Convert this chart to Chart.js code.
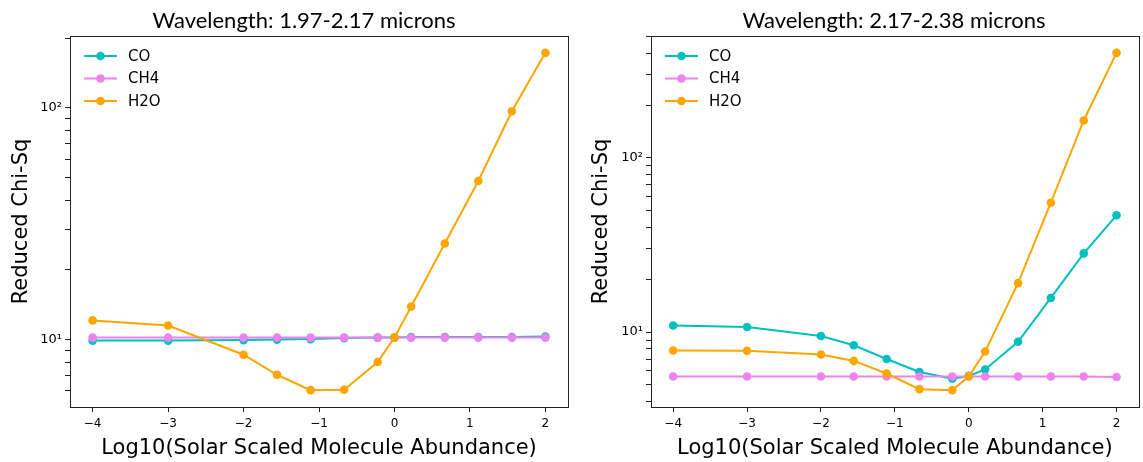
<!DOCTYPE html>
<html>
<head>
<meta charset="utf-8">
<script src="https://cdn.jsdelivr.net/npm/chart.js@4.4.0/dist/chart.umd.min.js"></script>
<style>
body { margin: 0; background: #fff; width: 1143px; height: 462px; position: relative; overflow: hidden; }
canvas { position: absolute; top: 0; }
</style>
</head>
<body>
<canvas id="graficaIzq" width="575" height="462" style="left:0"></canvas>
<canvas id="graficaDer" width="563" height="462" style="left:580px"></canvas>
<script>
"use strict";
/* DATOS */
const abundancia = [-4, -3, -2, -1.556, -1.111, -0.667, -0.222, 0, 0.222, 0.667, 1.111, 1.556, 2];
const nombres = ["CO", "CH4", "H2O"];
const colores = ["#00BFBF", "#EE82EE", "#FFA500"];
const titulos = ["Wavelength: 1.97-2.17 microns", "Wavelength: 2.17-2.38 microns"];

const coBanda1 = [9.9, 9.9, 9.95, 10.0, 10.05, 10.15, 10.2, 10.2, 10.25, 10.25, 10.25, 10.25, 10.3];
const ch4Banda1 = [10.2, 10.2, 10.2, 10.2, 10.2, 10.2, 10.2, 10.2, 10.2, 10.2, 10.2, 10.2, 10.2];
const h2oBanda1 = [12.1, 11.5, 8.6, 7.05, 6.05, 6.07, 8.0, 10.2, 13.9, 26.0, 48.4, 96.8, 173];

const coBanda2 = [10.9, 10.7, 9.5, 8.4, 7.0, 5.9, 5.4, 5.6, 6.1, 8.8, 15.7, 28.3, 46.8];
const ch4Banda2 = [5.56, 5.56, 5.56, 5.56, 5.56, 5.56, 5.56, 5.56, 5.56, 5.56, 5.56, 5.56, 5.52];
const h2oBanda2 = [7.84, 7.81, 7.43, 6.83, 5.78, 4.70, 4.64, 5.56, 7.74, 19.1, 55.3, 164, 401];

const ticksX = [-4, -3, -2, -1, 0, 1, 2];
const ticksY = [4, 5, 6, 7, 8, 9, 10, 20, 30, 40, 50, 60, 70, 80, 90, 100, 200, 300, 400, 500];
const etiquetasY = { 10: "10\u00B9", 100: "10\u00B2" };

const fuente = "'DejaVu Sans', sans-serif";

/* MARCO, TITULO Y LEYENDA */
const marco = {
    id: "marco",
    afterDraw(chart, args, opts) {
        const ctx = chart.ctx;
        const a = chart.chartArea;
        ctx.save();
        ctx.strokeStyle = "#222";
        ctx.lineWidth = 1;
        ctx.strokeRect(Math.round(a.left) + 0.5, Math.round(a.top) + 0.5,
            Math.round(a.right - a.left), Math.round(a.bottom - a.top));
        // titulo
        ctx.fillStyle = "#000";
        ctx.font = "22px Lato, 'Open Sans', sans-serif";
        ctx.textAlign = "center";
        ctx.textBaseline = "alphabetic";
        ctx.fillText(opts.texto, opts.xTitulo, 28);
        // leyenda
        ctx.font = "15px " + fuente;
        ctx.textAlign = "left";
        ctx.textBaseline = "middle";
        chart.data.datasets.forEach((ds, i) => {
            const y = a.top + 20 + i * 22.5;
            const x0 = a.left + 14;
            ctx.strokeStyle = ds.borderColor;
            ctx.lineWidth = 2;
            ctx.beginPath();
            ctx.moveTo(x0, y);
            ctx.lineTo(x0 + 33, y);
            ctx.stroke();
            ctx.fillStyle = ds.borderColor;
            ctx.beginPath();
            ctx.arc(x0 + 16.5, y, 4.3, 0, Math.PI * 2);
            ctx.fill();
            ctx.fillStyle = "#000";
            ctx.fillText(ds.label, x0 + 44, y + 1);
        });
        ctx.restore();
    }
};

function limitesLog(series) {
    const todos = series.flat();
    const lmin = Math.log10(Math.min(...todos));
    const lmax = Math.log10(Math.max(...todos));
    const m = (lmax - lmin) * 0.05;
    return [Math.pow(10, lmin - m), Math.pow(10, lmax + m)];
}

function crearGrafica(id, series, titulo, xTitulo, anchoY, derecha) {
    const [ymin, ymax] = limitesLog(series);
    const datasets = series.map((valores, i) => ({
        label: nombres[i],
        data: valores.map((v, k) => ({ x: abundancia[k], y: v })),
        borderColor: colores[i],
        backgroundColor: colores[i],
        borderWidth: 2,
        pointRadius: 4.3,
        pointHoverRadius: 4.3,
        pointBorderWidth: 0,
        tension: 0,
        order: 3 - i
    }));
    new Chart(document.getElementById(id), {
        type: "line",
        data: { datasets: datasets },
        options: {
            responsive: false,
            animation: false,
            devicePixelRatio: 1,
            layout: { padding: { top: 36, left: 0, right: derecha, bottom: 0 } },
            plugins: {
                legend: { display: false },
                tooltip: { enabled: false },
                marco: { texto: titulo, xTitulo: xTitulo }
            },
            scales: {
                x: {
                    type: "linear",
                    min: -4.3,
                    max: 2.3,
                    afterBuildTicks: s => { s.ticks = ticksX.map(v => ({ value: v })); },
                    afterFit: s => { s.height = 55; },
                    grid: { drawOnChartArea: false, tickLength: 5, color: "#222" },
                    border: { display: false },
                    ticks: {
                        autoSkip: false,
                        maxRotation: 0,
                        padding: 5,
                        color: "#000",
                        font: { family: fuente, size: 12 },
                        callback: v => String(v).replace("-", "\u2212")
                    },
                    title: {
                        display: true,
                        text: "Log10(Solar Scaled Molecule Abundance)",
                        color: "#000",
                        font: { family: fuente, size: 21 },
                        padding: { top: 1, bottom: 1 }
                    }
                },
                y: {
                    type: "logarithmic",
                    min: ymin,
                    max: ymax,
                    afterBuildTicks: s => {
                        s.ticks = ticksY.filter(v => v >= ymin && v <= ymax).map(v => ({ value: v, major: v in etiquetasY }));
                    },
                    afterFit: s => { s.width = anchoY; },
                    grid: { drawOnChartArea: false, tickLength: 5, color: "#222" },
                    border: { display: false },
                    ticks: {
                        autoSkip: false,
                        padding: 3,
                        color: "#000",
                        font: { family: fuente, size: 13 },
                        callback: v => etiquetasY[v] || ""
                    },
                    title: {
                        display: true,
                        text: "Reduced Chi-Sq",
                        color: "#000",
                        font: { family: fuente, size: 21 },
                        padding: { top: 9, bottom: 0 }
                    }
                }
            }
        },
        plugins: [marco]
    });
}

/* INICIAR */
document.addEventListener("DOMContentLoaded", () => {
    crearGrafica("graficaIzq", [coBanda1, ch4Banda1, h2oBanda1], titulos[0], 304, 70, 7);
    crearGrafica("graficaDer", [coBanda2, ch4Banda2, h2oBanda2], titulos[1], 314, 71, 1);
});
</script>
</body>
</html>
